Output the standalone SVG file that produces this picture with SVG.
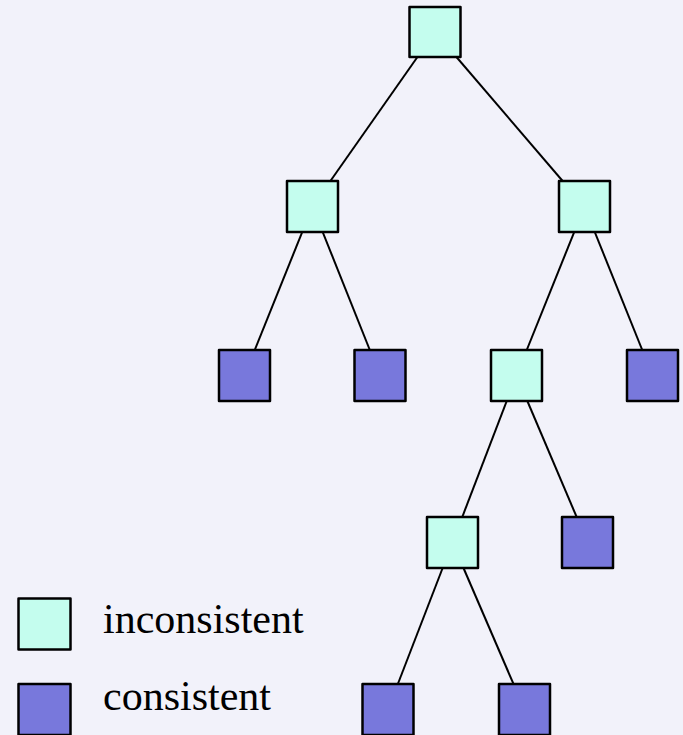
<svg xmlns="http://www.w3.org/2000/svg" width="683" height="735" viewBox="0 0 683 735">
  <style>
    .bg { fill: #f2f2fa; }
    .box { stroke: #000; stroke-width: 2.5; stroke-linejoin: round; }
    .inc { fill: #c4fdee; }
    .con { fill: #7878dc; }
    .edge { stroke: #000; stroke-width: 2; fill: none; }
    .lbl { font-family: "Liberation Serif", "Times New Roman", serif; font-size: 42px; fill: #000; }
  </style>
  <rect class="bg" x="0" y="0" width="683" height="735"/>

  <!-- tree edges, centre to centre, drawn beneath the boxes -->
  <g id="edges">
    <line class="edge" x1="435" y1="32" x2="312.5" y2="206.5"/>
    <line class="edge" x1="435" y1="32" x2="584.5" y2="206.5"/>
    <line class="edge" x1="312.5" y1="206.5" x2="244.5" y2="375.5"/>
    <line class="edge" x1="312.5" y1="206.5" x2="380" y2="375.5"/>
    <line class="edge" x1="584.5" y1="206.5" x2="516.5" y2="375.5"/>
    <line class="edge" x1="584.5" y1="206.5" x2="652.5" y2="375.5"/>
    <line class="edge" x1="516.5" y1="375.5" x2="452.5" y2="542.5"/>
    <line class="edge" x1="516.5" y1="375.5" x2="587.5" y2="542.5"/>
    <line class="edge" x1="452.5" y1="542.5" x2="388" y2="709.5"/>
    <line class="edge" x1="452.5" y1="542.5" x2="524.5" y2="709.5"/>
  </g>

  <g id="root"><rect class="box inc" x="409.5" y="7" width="51" height="50"/></g>
  <g id="n1"><rect class="box inc" x="287" y="181" width="51" height="51"/></g>
  <g id="n2"><rect class="box inc" x="559" y="181" width="51" height="51"/></g>
  <g id="n3"><rect class="box con" x="219" y="350" width="51" height="51"/></g>
  <g id="n4"><rect class="box con" x="354.5" y="350" width="51" height="51"/></g>
  <g id="n5"><rect class="box inc" x="491" y="350" width="51" height="51"/></g>
  <g id="n6"><rect class="box con" x="627" y="350" width="51" height="51"/></g>
  <g id="n7"><rect class="box inc" x="427" y="517" width="51" height="51"/></g>
  <g id="n8"><rect class="box con" x="562" y="517" width="51" height="51"/></g>
  <g id="n9"><rect class="box con" x="362.5" y="684" width="51" height="51"/></g>
  <g id="n10"><rect class="box con" x="499" y="684" width="51" height="51"/></g>

  <g id="legend">
    <rect class="box inc" x="18.5" y="598.5" width="52" height="51"/>
    <text class="lbl" x="103" y="633">inconsistent</text>
    <rect class="box con" x="18.5" y="684" width="52" height="51"/>
    <text class="lbl" x="103" y="710">consistent</text>
  </g>
</svg>
